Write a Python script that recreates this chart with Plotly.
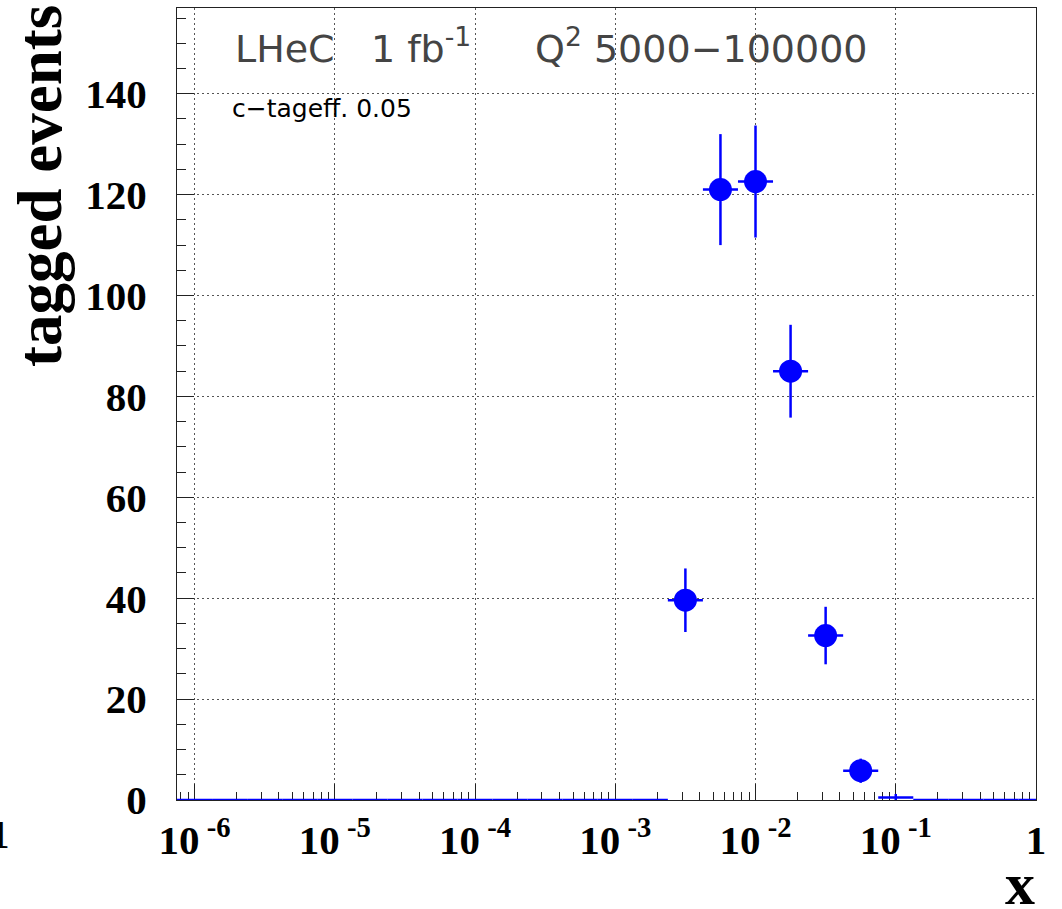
import numpy as np
import plotly.graph_objects as go

# ---- data (log10 of bin centre, tagged events, stat. error) ----
log_x_centres = [-6.0, -5.75, -5.5, -5.25, -5.0, -4.75, -4.5, -4.25, -4.0, -3.75,
                 -3.5, -3.25, -3.0, -2.75, -2.5, -2.25, -2.0, -1.75, -1.5, -1.25,
                 -1.0, -0.75, -0.5, -0.25, 0.0]
events = [0, 0, 0, 0, 0, 0, 0, 0, 0, 0,
          0, 0, 0, 0, 39.6, 121.0, 122.6, 85.0, 32.6, 5.8,
          0.5, 0, 0, 0, 0]
errors = [0, 0, 0, 0, 0, 0, 0, 0, 0, 0,
          0, 0, 0, 0, 6.3, 11.0, 11.1, 9.2, 5.7, 2.4,
          0.7, 0, 0, 0, 0]
half_bin_log = 0.125

x_tick_vals = [1e-6, 1e-5, 1e-4, 1e-3, 1e-2, 1e-1, 1]
x_tick_text = ["10<sup> -6</sup>", "10<sup> -5</sup>", "10<sup> -4</sup>", "10<sup> -3</sup>",
               "10<sup> -2</sup>", "10<sup> -1</sup>", "1"]

title_text = "LHeC\u00a0\u00a0 1 fb<sup>-1</sup>"
q2_text = "Q<sup>2</sup> 5000\u2212100000"
eff_text = "c\u2212tageff. 0.05"

BLUE = "#0000ff"

lc = np.array(log_x_centres)
xc = 10 ** lc
ex_plus = 10 ** (lc + half_bin_log) - xc
ex_minus = xc - 10 ** (lc - half_bin_log)
ev = np.array(events, dtype=float)
er = np.array(errors, dtype=float)

big = ev > 1
small = ~big
fig = go.Figure()

# bins without a visible marker (zero / tiny content): horizontal bars only
fig.add_trace(go.Scatter(
    x=xc[small], y=ev[small], mode="markers",
    marker=dict(size=0.1, color=BLUE, opacity=0),
    error_x=dict(type="data", symmetric=False, array=ex_plus[small], arrayminus=ex_minus[small],
                 color=BLUE, thickness=2.5, width=0),
    error_y=dict(type="data", array=er[small], color=BLUE, thickness=2.5, width=0),
    cliponaxis=False, showlegend=False, hoverinfo="skip"))

fig.add_trace(go.Scatter(
    x=xc[big], y=ev[big], mode="markers",
    marker=dict(size=23, color=BLUE, symbol="circle"),
    error_x=dict(type="data", symmetric=False, array=ex_plus[big], arrayminus=ex_minus[big],
                 color=BLUE, thickness=2.5, width=0),
    error_y=dict(type="data", array=er[big], color=BLUE, thickness=2.5, width=0),
    cliponaxis=False, showlegend=False))

minor_x = [k * 10.0 ** d for d in range(-7, 0) for k in range(2, 10)]
minor_x = [v for v in minor_x if v > 10 ** -6.125]

tickfont = dict(family="Liberation Serif", size=41, color="black", weight="bold")

fig.update_layout(
    width=1062, height=909,
    margin=dict(l=177, r=26, t=8, b=109),
    paper_bgcolor="white", plot_bgcolor="white",
    xaxis=dict(type="log", range=[-6.125, 0], tickmode="array",
               tickvals=x_tick_vals, ticktext=x_tick_text,
               ticks="inside", ticklen=16, tickwidth=1, tickcolor="#222",
               showline=True, linecolor="#222", linewidth=1, mirror=True,
               showgrid=True, gridcolor="#555", gridwidth=1, griddash="2px,3px",
               minor=dict(tickmode="array", tickvals=minor_x, ticks="inside",
                          ticklen=8, tickwidth=1, tickcolor="#222", showgrid=False),
               tickfont=tickfont, ticklabelstandoff=4, zeroline=False,
               layer="below traces", automargin=False),
    yaxis=dict(range=[0, 157], tickmode="linear", tick0=0, dtick=20,
               ticks="inside", ticklen=17, tickwidth=1, tickcolor="#222",
               showline=True, linecolor="#222", linewidth=1, mirror=True,
               showgrid=True, gridcolor="#555", gridwidth=1, griddash="2px,3px",
               minor=dict(dtick=5, ticks="inside", ticklen=9, tickwidth=1,
                          tickcolor="#222", showgrid=False),
               tickfont=tickfont, ticklabelstandoff=21, zeroline=False,
               layer="below traces", automargin=False),
    font=dict(family="Liberation Serif"),
)

def px_x(px):
    return (px - 177) / (1036 - 177)

def px_y(py):
    return (800 - py) / (800 - 8)

annots = [
    dict(text=title_text, x=px_x(233), y=px_y(46), xanchor="left", yanchor="middle",
         font=dict(family="DejaVu Sans", size=38, color="#444")),
    dict(text=q2_text, x=px_x(533), y=px_y(46), xanchor="left", yanchor="middle",
         font=dict(family="DejaVu Sans", size=38, color="#444")),
    dict(text=eff_text, x=px_x(230), y=px_y(108), xanchor="left", yanchor="middle",
         font=dict(family="DejaVu Sans", size=25, color="black")),
    dict(text="tagged events", textangle=-90, x=px_x(40), y=px_y(186),
         xanchor="center", yanchor="middle",
         font=dict(family="Liberation Serif", size=63, color="black", weight="bold")),
    dict(text="x", x=px_x(1037), y=px_y(884), xanchor="right", yanchor="middle",
         font=dict(family="Liberation Serif", size=60, color="black", weight="bold")),
    dict(text="1", x=px_x(12), y=px_y(834), xanchor="right", yanchor="middle",
         font=dict(family="Liberation Serif", size=41, color="black", weight="bold")),
]
for a in annots:
    a.update(xref="paper", yref="paper", showarrow=False)
    fig.add_annotation(**a)

fig.write_html("out.html", config={"displayModeBar": False},
               post_script="document.body.style.margin='0';document.body.style.overflow='hidden';")
